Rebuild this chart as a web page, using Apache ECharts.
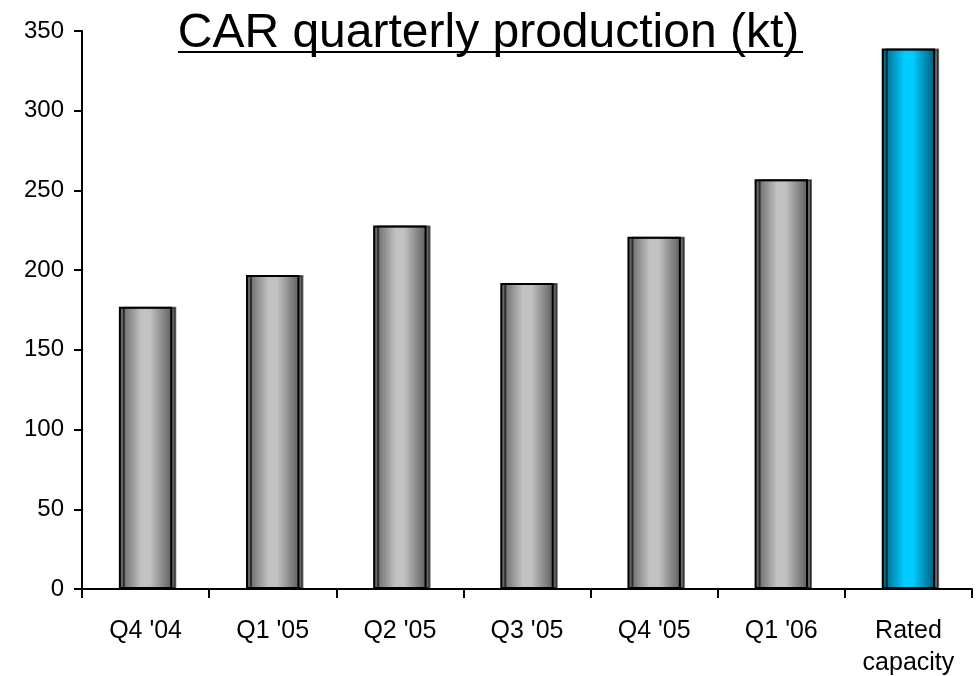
<!DOCTYPE html>
<html>
<head>
<meta charset="utf-8">
<script src="https://cdn.jsdelivr.net/npm/echarts@6/dist/echarts.min.js"></script>
<style>html,body{margin:0;padding:0;background:#fff}#c{width:977px;height:676px}</style>
</head>
<body>
<div id="c"></div>
<script>
var categories = ["Q4 '04", "Q1 '05", "Q2 '05", "Q3 '05", "Q4 '05", "Q1 '06", "Rated\ncapacity"];
var production = [177, 197, 228, 192, 221, 257, 339];
var highlightIndex = [6];

var FONT = '"Liberation Sans", Arial, sans-serif';
function grad(dark, light, dark2) {
  return new echarts.graphic.LinearGradient(0, 0, 1, 0, [
    {offset: 0, color: dark},
    {offset: 0.42, color: light},
    {offset: 0.58, color: light},
    {offset: 1, color: dark2}
  ]);
}
var grayGrad = grad('#5a5a5a', '#c2c2c2', '#5e5e5e');
var blueGrad = grad('#005c7a', '#00ccff', '#005a78');

var chart = echarts.init(document.getElementById('c'), null, {renderer: 'canvas'});
chart.setOption({
  animation: false,
  backgroundColor: '#fff',
  title: {
    text: 'CAR quarterly production (kt)',
    left: 'center',
    top: 5,
    textStyle: {fontFamily: FONT, fontSize: 48, fontWeight: 'normal', color: '#000'}
  },
  graphic: [{
    type: 'rect',
    shape: {x: 178, y: 51, width: 625, height: 2},
    style: {fill: '#000'}
  }],
  grid: {left: 82, right: 5, top: 31, bottom: 87, containLabel: false, outerBoundsMode: 'none'},
  xAxis: {
    type: 'category',
    data: categories,
    axisLine: {lineStyle: {color: '#000', width: 2}},
    axisTick: {show: true, length: 9, lineStyle: {color: '#000', width: 2}},
    axisLabel: {fontFamily: FONT, fontSize: 25, color: '#000', margin: 26, lineHeight: 32}
  },
  yAxis: {
    type: 'value',
    min: 0, max: 350, interval: 50,
    splitLine: {show: false},
    axisLine: {show: true, lineStyle: {color: '#000', width: 2}},
    axisTick: {show: true, length: 8, lineStyle: {color: '#000', width: 2}},
    axisLabel: {fontFamily: FONT, fontSize: 24, color: '#000', margin: 18}
  },
  series: [{
    type: 'bar',
    barWidth: '42%',
    data: production.map(function (v, i) {
      return {
        value: v,
        itemStyle: {color: highlightIndex.indexOf(i) >= 0 ? blueGrad : grayGrad}
      };
    }),
    itemStyle: {
      borderColor: '#000',
      borderWidth: 2,
      shadowColor: 'rgba(0,0,0,0.6)',
      shadowOffsetX: 4,
      shadowOffsetY: 0,
      shadowBlur: 0
    }
  }]
});
</script>
</body>
</html>
